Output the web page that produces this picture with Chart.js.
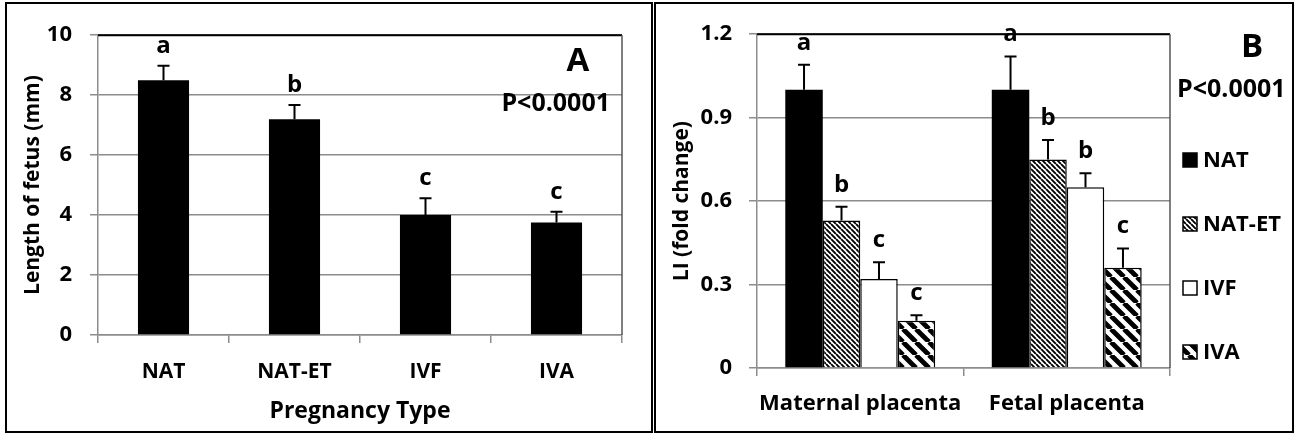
<!DOCTYPE html>
<html><head><meta charset="utf-8">
<script src="https://cdn.jsdelivr.net/npm/chart.js@4.4.1/dist/chart.umd.min.js"></script>
<style>
html,body{margin:0;padding:0;background:#fff;}
#wrap{position:relative;width:1302px;height:434px;overflow:hidden;background:#fff;}
.panel{position:absolute;box-sizing:border-box;border:2px solid #000;top:2px;height:431px;overflow:hidden;}
#pa{left:5px;width:648px;}
#pb{left:654px;width:640px;}
canvas{display:block;}
</style></head>
<body>
<div id="wrap">
  <div class="panel" id="pa"><canvas id="ca" width="644" height="427"></canvas></div>
  <div class="panel" id="pb"><canvas id="cb" width="636" height="427"></canvas></div>
</div>
<script>
// ---------- DATA ----------
const pregnancyTypes = ['NAT', 'NAT-ET', 'IVF', 'IVA'];
const fetusLength    = [8.5, 7.2, 4.0, 3.75];
const fetusLengthSE  = [0.48, 0.47, 0.56, 0.36];
const fetusLetters   = ['a', 'b', 'c', 'c'];
const yTicksA        = [0, 2, 4, 6, 8, 10];

const placentaSites  = ['Maternal placenta', 'Fetal placenta'];
const seriesNames    = ['NAT', 'NAT-ET', 'IVF', 'IVA'];
const liNAT          = [1.00, 1.00];
const liNATse        = [0.09, 0.12];
const liNATET        = [0.53, 0.75];
const liNATETse      = [0.05, 0.07];
const liIVF          = [0.32, 0.65];
const liIVFse        = [0.06, 0.05];
const liIVA          = [0.17, 0.36];
const liIVAse        = [0.02, 0.07];
const lettersNAT     = ['a', 'a'];
const lettersNATET   = ['b', 'b'];
const lettersIVF     = ['c', 'b'];
const lettersIVA     = ['c', 'c'];
const yTicksB        = [0, 0.3, 0.6, 0.9, 1.2];

// ---------- STYLE ----------
const FONT = '"Open Sans"';
const GRID = '#8c8c8c';
function stripePattern(period, lw) {
  const c = document.createElement('canvas');
  c.width = c.height = period;
  const g = c.getContext('2d');
  g.fillStyle = '#fff'; g.fillRect(0, 0, period, period);
  g.strokeStyle = '#000'; g.lineWidth = lw;
  g.beginPath();
  for (const o of [-period, 0, period]) { g.moveTo(o, 0); g.lineTo(o + period, period); }
  g.stroke();
  return g.createPattern(c, 'repeat');
}
const fineHatch = stripePattern(5, 1.9);
const wideHatch = stripePattern(13, 4.8);
const fillsB = ['#000', fineHatch, '#fff', wideHatch];

// plot frame: black top line, dark right line
const framePlugin = {
  id: 'frame',
  afterDraw(chart) {
    const {ctx, chartArea: a} = chart;
    ctx.save();
    ctx.strokeStyle = '#000'; ctx.lineWidth = 2;
    ctx.beginPath(); ctx.moveTo(a.left, a.top); ctx.lineTo(a.right, a.top); ctx.stroke();
    ctx.strokeStyle = '#555'; ctx.lineWidth = 1.5;
    ctx.beginPath(); ctx.moveTo(a.right, a.top); ctx.lineTo(a.right, a.bottom); ctx.stroke();
    ctx.restore();
  }
};

// error bars + significance letters
const errorPlugin = {
  id: 'errs',
  afterDatasetsDraw(chart, args, opts) {
    const {ctx} = chart;
    const ys = chart.scales.y;
    ctx.save();
    chart.data.datasets.forEach((ds, di) => {
      const meta = chart.getDatasetMeta(di);
      meta.data.forEach((el, i) => {
        const top = ys.getPixelForValue(ds.data[i] + ds.se[i]);
        ctx.strokeStyle = '#000'; ctx.lineWidth = 2;
        ctx.beginPath();
        ctx.moveTo(el.x, el.y); ctx.lineTo(el.x, top);
        ctx.moveTo(el.x - 6, top); ctx.lineTo(el.x + 6, top);
        ctx.stroke();
        ctx.fillStyle = '#000';
        ctx.font = 'bold ' + opts.size + 'px ' + FONT;
        ctx.textAlign = 'center'; ctx.textBaseline = 'middle';
        ctx.fillText(ds.letters[i], el.x, top - opts.offset);
      });
    });
    ctx.restore();
  }
};

// ---------- CHART A ----------
new Chart(document.getElementById('ca'), {
  type: 'bar',
  data: {
    labels: pregnancyTypes,
    datasets: [{
      data: fetusLength, se: fetusLengthSE, letters: fetusLetters,
      backgroundColor: '#000', borderWidth: 0,
      barPercentage: 0.39, categoryPercentage: 1
    }]
  },
  options: {
    responsive: false, animation: false,
    layout: {padding: {left: 0, right: 29, top: 28, bottom: 0}},
    plugins: {
      legend: {display: false}, tooltip: {enabled: false},
      errs: {size: 24, offset: 20}
    },
    scales: {
      x: {
        grid: {drawOnChartArea: false, drawTicks: true, tickLength: 8, color: GRID, lineWidth: 1.5},
        border: {color: GRID, width: 1.5},
        ticks: {color: '#000', font: {family: FONT, weight: 'bold', size: 21}, padding: 16,
                autoSkip: false, maxRotation: 0, minRotation: 0},
        title: {display: true, text: 'Pregnancy Type', color: '#000',
                font: {family: FONT, weight: 'bold', size: 23}, padding: {top: 0, bottom: 6}},
        afterFit(s) { s.height = 96; }
      },
      y: {
        min: 0, max: 10,
        afterBuildTicks(s) { s.ticks = yTicksA.map(v => ({value: v})); },
        grid: {color: GRID, lineWidth: 1.5, tickLength: 8},
        border: {color: GRID, width: 1.5},
        ticks: {color: '#000', font: {family: FONT, weight: 'bold', size: 22}, padding: 18},
        title: {display: true, text: 'Length of fetus (mm)', color: '#000',
                font: {family: FONT, weight: 'bold', size: 21}, padding: {top: 13, bottom: 0}},
        afterFit(s) { s.width = 91; }
      }
    }
  },
  plugins: [framePlugin, errorPlugin, {
    id: 'annA',
    afterDraw(chart) {
      const {ctx} = chart;
      ctx.save();
      ctx.fillStyle = '#000';
      ctx.textBaseline = 'middle';
      ctx.textAlign = 'center';
      ctx.font = 'bold 33px ' + FONT;
      ctx.fillText('A', 571, 58);
      ctx.textAlign = 'right';
      ctx.font = 'bold 25px ' + FONT;
      ctx.fillText('P<0.0001', 603, 100);
      ctx.restore();
    }
  }]
});

// ---------- CHART B ----------
const liSeries = [liNAT, liNATET, liIVF, liIVA];
const liSE = [liNATse, liNATETse, liIVFse, liIVAse];
const liLetters = [lettersNAT, lettersNATET, lettersIVF, lettersIVA];

new Chart(document.getElementById('cb'), {
  type: 'bar',
  data: {
    labels: placentaSites,
    datasets: seriesNames.map((name, k) => ({
      label: name, data: liSeries[k], se: liSE[k], letters: liLetters[k],
      backgroundColor: fillsB[k], borderColor: '#000', borderWidth: k === 0 ? 0 : 1.5,
      barPercentage: 1, categoryPercentage: 0.726
    }))
  },
  options: {
    responsive: false, animation: false,
    layout: {padding: {left: 0, right: 122, top: 28, bottom: 0}},
    plugins: {
      legend: {display: false}, tooltip: {enabled: false},
      errs: {size: 24, offset: 22}
    },
    scales: {
      x: {
        grid: {drawOnChartArea: false, drawTicks: true, tickLength: 8, color: GRID, lineWidth: 1.5},
        border: {color: GRID, width: 1.5},
        ticks: {color: '#000', font: {family: FONT, weight: 'bold', size: 22}, padding: 15,
                autoSkip: false, maxRotation: 0, minRotation: 0},
        afterFit(s) { s.height = 63; }
      },
      y: {
        min: 0, max: 1.2,
        afterBuildTicks(s) { s.ticks = yTicksB.map(v => ({value: v})); },
        grid: {color: GRID, lineWidth: 1.5, tickLength: 8},
        border: {color: GRID, width: 1.5},
        ticks: {color: '#000', font: {family: FONT, weight: 'bold', size: 22}, padding: 17,
                callback: v => String(Math.round(v * 10) / 10)},
        title: {display: true, text: 'LI (fold change)', color: '#000',
                font: {family: FONT, weight: 'bold', size: 21}, padding: {top: 13, bottom: 0}},
        afterFit(s) { s.width = 101; }
      }
    }
  },
  plugins: [framePlugin, errorPlugin, {
    id: 'annB',
    afterDraw(chart) {
      const {ctx} = chart;
      ctx.save();
      ctx.fillStyle = '#000';
      ctx.textBaseline = 'middle';
      ctx.textAlign = 'center';
      ctx.font = 'bold 33px ' + FONT;
      ctx.fillText('B', 596, 44);
      ctx.textAlign = 'left';
      ctx.font = 'bold 25px ' + FONT;
      ctx.fillText('P<0.0001', 521, 86);
      // legend
      ctx.font = 'bold 22px ' + FONT;
      chart.data.datasets.forEach((ds, k) => {
        const cy = 156 + k * 64;
        ctx.fillStyle = ds.backgroundColor;
        ctx.fillRect(527, cy - 7, 14, 14);
        ctx.strokeStyle = '#000'; ctx.lineWidth = 1.5;
        ctx.strokeRect(527, cy - 7, 14, 14);
        ctx.fillStyle = '#000';
        ctx.fillText(ds.label, 547, cy + 1);
      });
      ctx.restore();
    }
  }]
});
</script>
</body></html>
